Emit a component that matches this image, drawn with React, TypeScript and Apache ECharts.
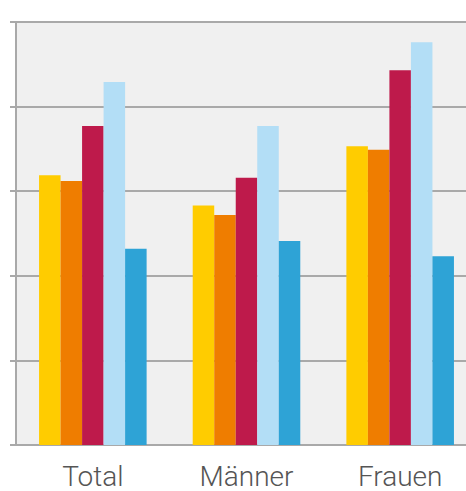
import React, { useEffect, useRef } from "react";
import * as echarts from "echarts";

const categories = ["Total", "Männer", "Frauen"];
const seriesA = [31.9, 28.3, 35.3];
const seriesB = [31.2, 27.2, 34.9];
const seriesC = [37.7, 31.6, 44.3];
const seriesD = [42.9, 37.7, 47.6];
const seriesE = [23.2, 24.1, 22.3];
const colors = ["#FFCC00", "#EF7D00", "#BE1A4B", "#B3DEF6", "#2EA3D6"];

export default function App() {
  const ref = useRef<HTMLDivElement>(null);
  useEffect(() => {
    const chart = echarts.init(ref.current!, null, { renderer: "svg" });
    const data = [seriesA, seriesB, seriesC, seriesD, seriesE];
    chart.setOption({
      animation: false,
      grid: {
        left: 16,
        top: 22,
        bottom: 46,
        right: 0,
        show: true,
        backgroundColor: "#f0f0f0",
        borderWidth: 0,
      },
      xAxis: {
        type: "category",
        data: categories,
        axisLine: { show: true, lineStyle: { color: "#a9a9a9", width: 2 } },
        axisTick: { show: false },
        axisLabel: {
          color: "#555",
          fontFamily: "Roboto",
          fontWeight: 300,
          fontSize: 28,
          lineHeight: 28,
          margin: 17,
        },
      },
      yAxis: {
        type: "value",
        min: 0,
        max: 50,
        interval: 10,
        axisLine: { show: true, lineStyle: { color: "#a9a9a9", width: 2 } },
        axisTick: { show: true, length: 6, lineStyle: { color: "#a9a9a9", width: 2 } },
        axisLabel: { show: false },
        splitLine: { show: true, lineStyle: { color: "#a9a9a9", width: 2 } },
      },
      series: data.map((d, i) => ({
        type: "bar",
        data: d,
        barGap: "0%",
        barCategoryGap: "30%",
        itemStyle: { color: colors[i] },
      })),
    });
    return () => chart.dispose();
  }, []);
  return (
    <div
      style={{
        position: "fixed",
        left: 0,
        top: 0,
        width: 466,
        height: 491,
        overflow: "hidden",
        background: "#fff",
      }}
    >
      <div ref={ref} style={{ width: 477, height: 491 }} />
    </div>
  );
}
